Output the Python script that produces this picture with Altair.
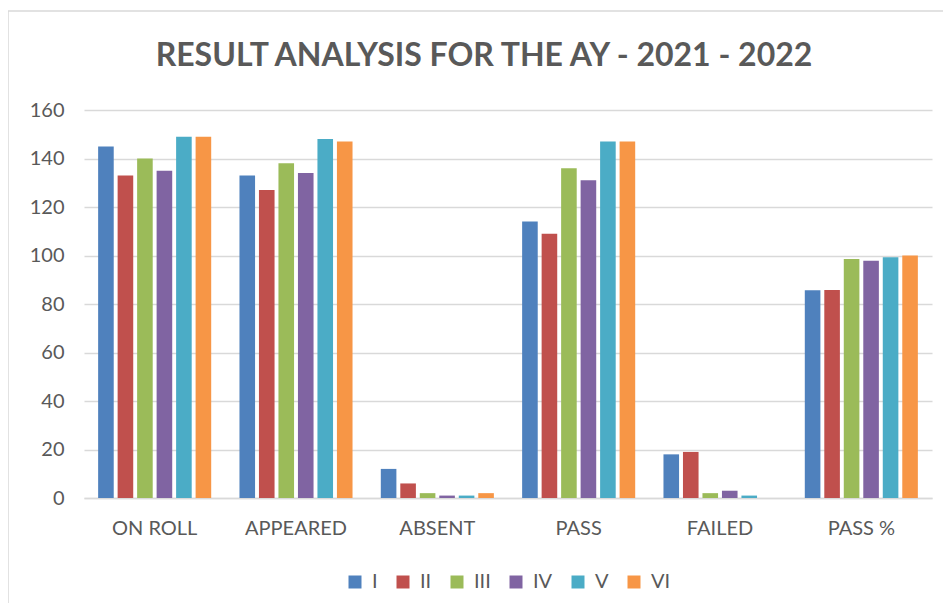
import altair as alt
import pandas as pd

title_text = "RESULT ANALYSIS FOR THE AY - 2021 - 2022"
categories = ["ON ROLL", "APPEARED", "ABSENT", "PASS", "FAILED", "PASS %"]
series = ["I", "II", "III", "IV", "V", "VI"]
colors = ["#4F81BD", "#C0504D", "#9BBB59", "#8064A2", "#4BACC6", "#F79646"]

vals_I = [145, 133, 12, 114, 18, 85.7]
vals_II = [133, 127, 6, 109, 19, 85.8]
vals_III = [140, 138, 2, 136, 2, 98.6]
vals_IV = [135, 134, 1, 131, 3, 97.8]
vals_V = [149, 148, 1, 147, 1, 99.3]
vals_VI = [149, 147, 2, 147, 0, 100]

all_vals = [vals_I, vals_II, vals_III, vals_IV, vals_V, vals_VI]
rows = []
for s, vals in zip(series, all_vals):
    for c, v in zip(categories, vals):
        rows.append({"category": c, "series": s, "value": v})
df = pd.DataFrame(rows)

FONT = "Lato"
GREY = "#595959"

bars = alt.Chart(df).mark_bar().encode(
    x=alt.X("category:N", sort=categories, title=None,
            scale=alt.Scale(paddingInner=0.2, paddingOuter=0.1),
            axis=alt.Axis(labelAngle=0, ticks=False, labelPadding=20,
                          labelFontSize=20, labelColor=GREY, labelFont=FONT,
                          domainColor="#D9D9D9", domainWidth=1.5, grid=False)),
    xOffset=alt.XOffset("series:N", sort=series,
                        scale=alt.Scale(paddingInner=0.2, paddingOuter=0)),
    y=alt.Y("value:Q", title=None,
            scale=alt.Scale(domain=[0, 160], nice=False),
            axis=alt.Axis(values=[0, 20, 40, 60, 80, 100, 120, 140, 160],
                          ticks=False, domain=False, labelPadding=20,
                          labelFontSize=20, labelColor=GREY, labelFont=FONT,
                          gridColor="#D9D9D9", gridWidth=1.5)),
    color=alt.Color("series:N", sort=series, title=None,
                    scale=alt.Scale(domain=series, range=colors),
                    legend=alt.Legend(orient="none", direction="horizontal",
                                      legendX=261, legendY=462,
                                      symbolType="square", symbolSize=169,
                                      symbolStrokeWidth=0,
                                      labelFontSize=20, labelColor=GREY,
                                      labelFont=FONT, columnPadding=15,
                                      labelOffset=7)),
)

one = alt.Data(values=[{}])
left_border = alt.Chart(one).mark_rule(color="#D9D9D9", strokeWidth=1.5).encode(
    x=alt.value(-76), y=alt.value(-99), y2=alt.value(600))
top_border = alt.Chart(one).mark_rule(color="#D9D9D9", strokeWidth=1.5).encode(
    x=alt.value(-76), x2=alt.value(900), y=alt.value(-99))
title = alt.Chart(alt.Data(values=[{"t": title_text}])).mark_text(
    font=FONT, fontSize=32, fontWeight="bold", color=GREY,
    align="center", baseline="middle").encode(
    x=alt.value(400), y=alt.value(-54), text="t:N")

chart = alt.layer(left_border, top_border, title, bars).properties(
    width=848, height=388,
    autosize=alt.AutoSizeParams(type="none"),
    padding={"left": 76, "top": 102, "right": 11, "bottom": 105},
).configure_view(stroke=None)

chart.save("out.html", embed_options={"renderer": "svg", "actions": False})
